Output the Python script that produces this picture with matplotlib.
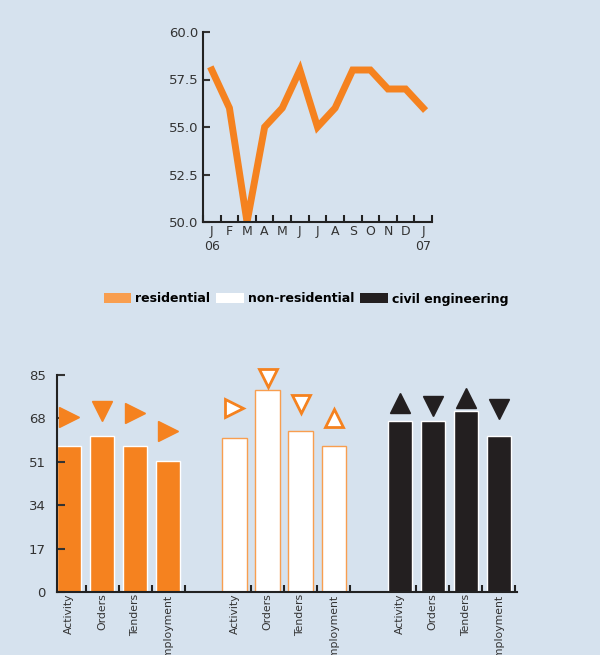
import numpy as np
import matplotlib.pyplot as plt
from matplotlib.patches import Patch

BG = '#d6e2ee'
ORANGE = '#f5821f'
DARK = '#231f20'

months = ['J\n06', 'F', 'M', 'A', 'M', 'J', 'J', 'A', 'S', 'O', 'N', 'D', 'J\n07']
index_vals = [58, 56, 50, 55, 56, 58, 55, 56, 58, 58, 57, 57, 56]

categories = ['Activity', 'Orders', 'Tenders', 'Employment']
residential = [57.3, 61, 57.3, 51.4]
non_residential = [60.4, 79, 63, 57]
civil = [67, 67, 71, 61]
res_markers = ['>', 'v', '>', '>']
res_mark_y = [68.5, 71, 70, 63]
nonres_markers = ['>', 'v', 'v', '^']
nonres_mark_y = [72, 84, 73.5, 68]
civil_markers = ['^', 'v', '^', 'v']
civil_mark_y = [74, 73, 76, 71.5]

fig = plt.figure(figsize=(6, 6.55), dpi=100, facecolor=BG)

# top line chart
ax1 = fig.add_axes([203/600, 1-222/655, 229/600, 190/655], facecolor=BG)
x = np.arange(len(months))
ax1.plot(x, index_vals, color=ORANGE, lw=5, solid_joinstyle='miter')
ax1.set_ylim(50, 60)
ax1.set_xlim(-0.5, 12.5)
ax1.set_yticks([50, 52.5, 55, 57.5, 60])
ax1.set_yticklabels(['50.0', '52.5', '55.0', '57.5', '60.0'])
ax1.set_xticks(x)
ax1.set_xticklabels(months)
ax1.set_xticks(np.arange(-0.5, 13, 1), minor=True)
ax1.tick_params(axis='x', which='major', length=0, labelsize=9, colors='#333333', pad=2)
ax1.tick_params(axis='x', which='minor', direction='in', length=5, width=1.5, color='#222222')
ax1.tick_params(axis='y', direction='in', length=5, width=1.5, labelsize=9.5, colors='#333333')
for s in ['top', 'right']:
    ax1.spines[s].set_visible(False)
for s in ['left', 'bottom']:
    ax1.spines[s].set_linewidth(1.5)
    ax1.spines[s].set_color('#222222')

# legend
handles = [Patch(facecolor='#f89e4f', edgecolor='none'),
           Patch(facecolor='white', edgecolor='none'),
           Patch(facecolor=DARK, edgecolor='none')]
fig.legend(handles, ['residential', 'non-residential', 'civil engineering'],
           loc='center', bbox_to_anchor=(0.51, 1-299/655), ncol=3, frameon=False,
           handlelength=2.2, handleheight=0.9, handletextpad=0.3, columnspacing=0.5,
           prop={'weight': 'bold', 'size': 9})

# bottom bar chart
ax2 = fig.add_axes([57/600, 1-592/655, 460/600, 217/655], facecolor=BG)
pos = [np.arange(4), np.arange(4) + 5, np.arange(4) + 10]
w = 0.73
ax2.bar(pos[0], residential, width=w, color=ORANGE, edgecolor='white', lw=1)
ax2.bar(pos[1], non_residential, width=w, color='white', edgecolor='#f89e4f', lw=1)
ax2.bar(pos[2], civil, width=w, color=DARK, edgecolor='white', lw=1)
for p, m, my in zip(pos[0], res_markers, res_mark_y):
    ax2.plot(p, my, marker=m, ms=14, color=ORANGE, mec=ORANGE, ls='none', clip_on=False)
for p, m, my in zip(pos[1], nonres_markers, nonres_mark_y):
    ax2.plot(p, my, marker=m, ms=13, mfc='white', mec=ORANGE, mew=2, ls='none', clip_on=False)
for p, m, my in zip(pos[2], civil_markers, civil_mark_y):
    ax2.plot(p, my, marker=m, ms=14, color=DARK, ls='none', clip_on=False)
ax2.set_ylim(0, 85)
ax2.set_xlim(-0.37, 13.55)
ax2.set_yticks([0, 17, 34, 51, 68, 85])
ax2.tick_params(axis='y', direction='in', length=6, width=1.5, labelsize=9.5, colors='#333333', pad=8)
allpos = np.concatenate(pos)
ax2.set_xticks(allpos)
ax2.set_xticklabels(categories * 3, rotation=90, va='top', ha='center')
ax2.set_xticks(np.concatenate([p + 0.5 for p in pos]), minor=True)
ax2.tick_params(axis='x', which='major', length=0, labelsize=7.8, colors='#333333', pad=1)
ax2.tick_params(axis='x', which='minor', direction='in', length=5, width=1.5, color='#222222')
for s in ['top', 'right']:
    ax2.spines[s].set_visible(False)
for s in ['left', 'bottom']:
    ax2.spines[s].set_linewidth(1.5)
    ax2.spines[s].set_color('#222222')

fig.savefig('out.png', dpi=100, facecolor=BG)
